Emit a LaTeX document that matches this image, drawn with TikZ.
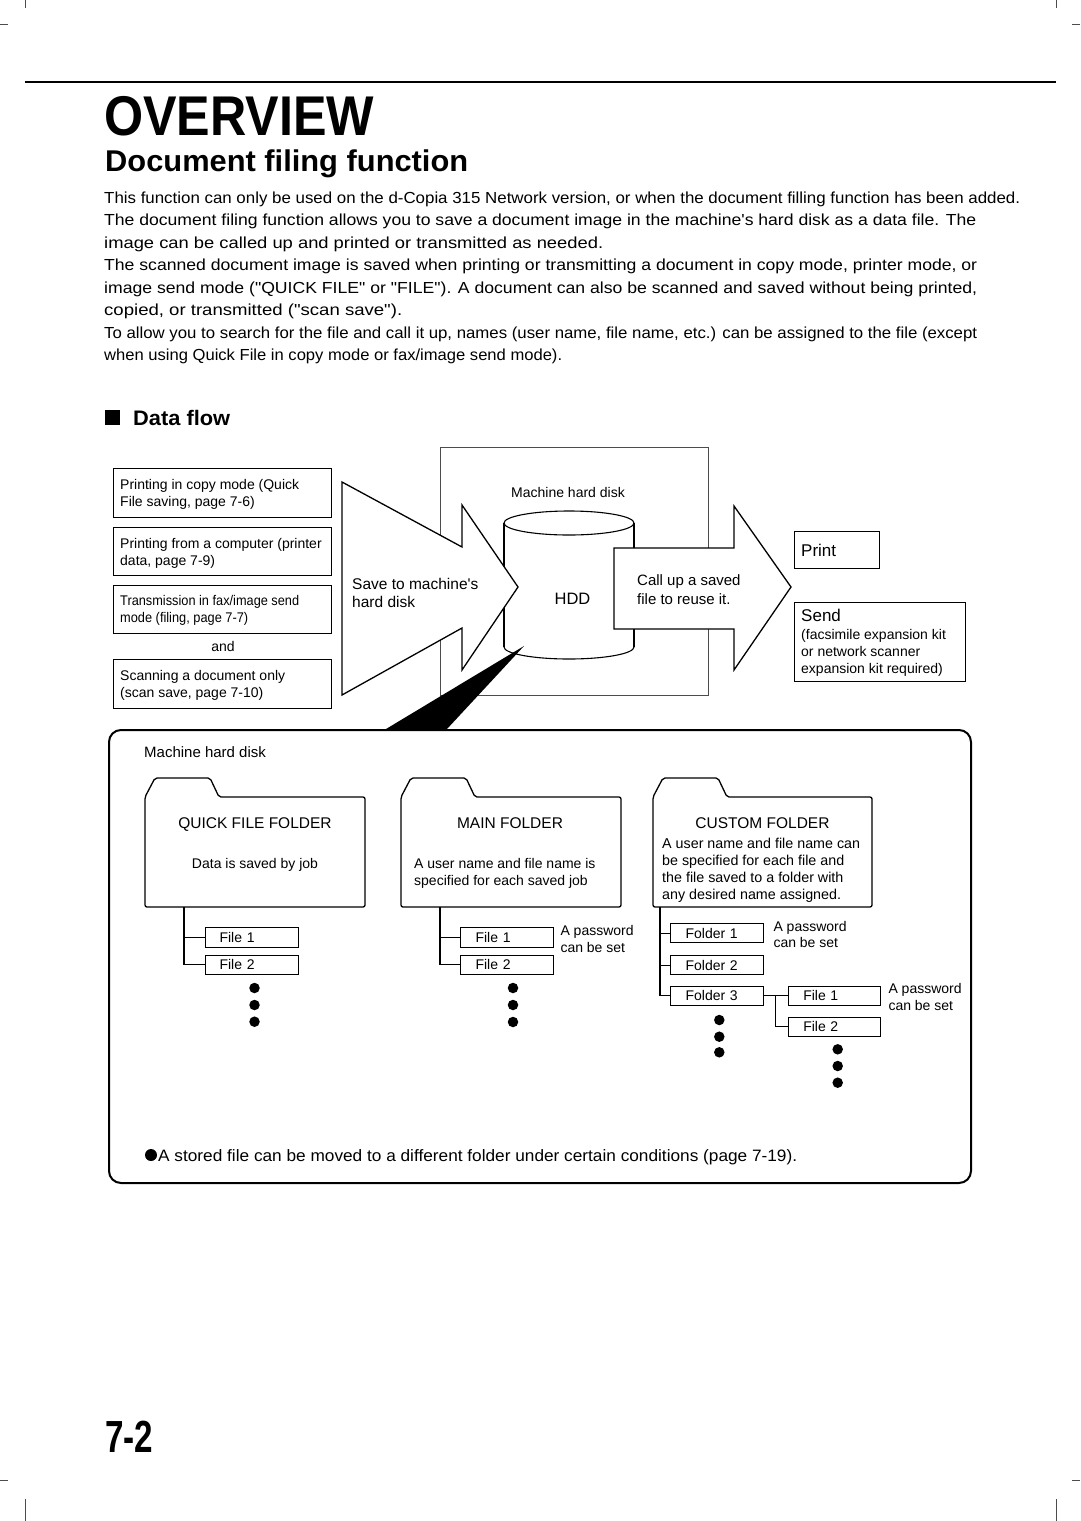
\documentclass[tikz,border=0pt]{standalone}
\usepackage{fontspec}
\setmainfont{Liberation Sans}[Ligatures=TeXOff]
\usepackage{graphicx}
\newlength\fitlen
\newcommand\fitto[2]{\settowidth\fitlen{#2}\pgfmathsetmacro\fitr{#1/\fitlen}\scalebox{\fitr}[1]{#2}}
\newcommand\fs[1]{\fontsize{#1}{#1}\selectfont}
\begin{document}
\begin{tikzpicture}[x=1pt,y=-1pt,
  lbl/.style={anchor=base west, inner sep=0},
  clbl/.style={anchor=base, inner sep=0},
  srcbox/.style={draw, line width=1.3, inner sep=0, anchor=north west},
  filebox/.style={draw, line width=1.1, inner sep=0, anchor=north west, minimum height=19.5, text width=#1, align=left, font=\fs{14}},
  tree/.style={line width=1.1},
  bigarrow/.style={draw, fill=white, line width=1.3, line join=miter},
  folder/.style={draw, line width=1.3, rounded corners=2},
  dot/.style={circle, fill, inner sep=0, minimum size=10.5},
  crop/.style={line width=0.6, black!70}]
\fill[white] (0,0) rectangle (1080,1521);
\useasboundingbox (0,0) rectangle (1080,1521);

% crop marks
\draw[crop] (25,0) -- (25,8); \draw[crop] (0,24) -- (8,24);
\draw[crop] (1056,0) -- (1056,8); \draw[crop] (1072,24) -- (1080,24);
\draw[crop] (0,1480) -- (8,1480); \draw[crop] (1072,1480) -- (1080,1480);
\draw[crop] (25,1499) -- (25,1521); \draw[crop] (1056,1499) -- (1056,1521);

% header
\draw[line width=2] (25,82) -- (1056,82);
\node[lbl, font=\fs{56}\bfseries] (title) at (104,135) {\fitto{270}{OVERVIEW}};
\node[lbl, font=\fs{30}\bfseries] (subtitle) at (105,171.5) {\fitto{363}{Document filing function}};

% body text
\begin{scope}[font=\fs{16}]
\node[lbl] (body1) at (104,203.5) {\fitto{916}{This function can only be used on the d-Copia 315 Network version, or when the document filling function has been added.}};
\node[lbl] (body2) at (104,225.5) {\fitto{872}{The document filing function allows you to save a document image in the machine's hard disk as a data file. The}};
\node[lbl] (body3) at (104,248.5) {\fitto{499}{image can be called up and printed or transmitted as needed.}};
\node[lbl] (body4) at (104,270.5) {\fitto{873}{The scanned document image is saved when printing or transmitting a document in copy mode, printer mode, or}};
\node[lbl] (body5) at (104,293.5) {\fitto{873}{image send mode ("QUICK FILE" or "FILE"). A document can also be scanned and saved without being printed,}};
\node[lbl] (body6) at (104,315.5) {\fitto{298}{copied, or transmitted ("scan save").}};
\node[lbl] (body7) at (104,338.5) {\fitto{873}{To allow you to search for the file and call it up, names (user name, file name, etc.) can be assigned to the file (except}};
\node[lbl] (body8) at (104,360.5) {\fitto{458}{when using Quick File in copy mode or fax/image send mode).}};
\end{scope}

% Data flow heading
\node[fill, minimum size=15, inner sep=0, anchor=north west] (sq) at (104.5,410) {};
\node[lbl, font=\fs{21}\bfseries] (df) at (133,425.5) {\fitto{97}{Data flow}};

% machine box and HDD
\node[draw=black!70, line width=0.9, minimum width=268, minimum height=248, anchor=north west, inner sep=0] (mach) at (440,447) {};
\node[clbl, font=\fs{14}] (machl) at (568,497.5) {Machine hard disk};
\draw[line width=1.1, fill=white] (569,647) ellipse[x radius=65, y radius=12];
\fill[white] (504,523) rectangle (634,647);
\draw[line width=1.1] (504,523) -- (504,647);
\draw[line width=1.1] (634,523) -- (634,647);
\draw[line width=1.1, fill=white] (569,523) ellipse[x radius=65, y radius=12];
\coordinate (hdd) at (569,585);
\node[clbl, font=\fs{16.5}] (hddl) at (572.5,604) {HDD};

% big arrows
\draw[bigarrow] (342,482) -- (462,547) -- (462,505) -- (518,587) -- (462,670) -- (462,628) -- (342,695) -- cycle;
\node[lbl, font=\fs{15.5}] (save1) at (352,589) {Save to machine's};
\node[lbl, font=\fs{15.5}] (save2) at (352,607) {hard disk};
\draw[bigarrow] (614,548) -- (734,548) -- (734,506) -- (791,587) -- (734,670) -- (734,629) -- (614,629) -- cycle;
\node[lbl, font=\fs{15}] (call1) at (637,585) {Call up a saved};
\node[lbl, font=\fs{15}] (call2) at (637,604) {file to reuse it.};

% source boxes
\node[srcbox, minimum width=218, minimum height=49] (src1) at (113,468) {};
\node[srcbox, minimum width=218, minimum height=48] (src2) at (113,527) {};
\node[srcbox, minimum width=218, minimum height=48] (src3) at (113,585) {};
\node[srcbox, minimum width=218, minimum height=49] (src4) at (113,659) {};
\begin{scope}[font=\fs{14}]
\node[lbl] (s1a) at (120,489) {Printing in copy mode (Quick};
\node[lbl] (s1b) at (120,506) {File saving, page 7-6)};
\node[lbl] (s2a) at (120,548) {Printing from a computer (printer};
\node[lbl] (s2b) at (120,565) {data, page 7-9)};
\node[lbl] (s3a) at (120,605.5) {\fitto{179}{Transmission in fax/image send}};
\node[lbl] (s3b) at (120,622.5) {\fitto{128}{mode (filing, page 7-7)}};
\node[clbl] (and) at (223,651.5) {and};
\node[lbl] (s4a) at (120,680) {Scanning a document only};
\node[lbl] (s4b) at (120,697) {(scan save, page 7-10)};
\end{scope}

% output boxes
\node[srcbox, minimum width=85, minimum height=37] (print) at (794,531) {};
\node[lbl, font=\fs{17}] (printl) at (801,556.5) {Print};
\node[srcbox, minimum width=171, minimum height=79] (send) at (794,602) {};
\node[lbl, font=\fs{17}] (sendl) at (801,621.5) {Send};
\begin{scope}[font=\fs{14}]
\node[lbl] (send1) at (801,639) {(facsimile expansion kit};
\node[lbl] (send2) at (801,656) {or network scanner};
\node[lbl] (send3) at (801,673) {expansion kit required)};
\end{scope}

% lower rounded box
\node[draw, line width=2, rounded corners=12, minimum width=862, minimum height=453, anchor=north west, inner sep=0] (hdbox) at (108,729) {};
\fill (386,729) -- (447,729) -- (524,646) -- (514,652) -- cycle;
\node[lbl, font=\fs{15}] (hdl) at (144,757) {Machine hard disk};

% folders
\draw[folder] (145,907) -- (145,797) -- (155,778) -- (210,778) -- (219,797) -- (365,797) -- (365,907) -- cycle;
\draw[folder] (401,907) -- (401,797) -- (411,778) -- (466,778) -- (475,797) -- (621,797) -- (621,907) -- cycle;
\draw[folder] (653,907) -- (653,797) -- (663,778) -- (718,778) -- (727,797) -- (872,797) -- (872,907) -- cycle;

\node[clbl, font=\fs{15.5}] (qft) at (255,828.3) {QUICK FILE FOLDER};
\node[clbl, font=\fs{14}] (qfd) at (255,868.3) {Data is saved by job};
\node[clbl, font=\fs{15.5}] (mft) at (510,828.3) {MAIN FOLDER};
\node[lbl, font=\fs{14}] (mfd1) at (414,868.3) {A user name and file name is};
\node[lbl, font=\fs{14}] (mfd2) at (414,885.3) {specified for each saved job};
\node[clbl, font=\fs{15.5}] (cft) at (762.5,828.3) {CUSTOM FOLDER};
\begin{scope}[font=\fs{14.3}]
\node[lbl] (cfd1) at (662,848.3) {A user name and file name can};
\node[lbl] (cfd2) at (662,865.3) {be specified for each file and};
\node[lbl] (cfd3) at (662,882.3) {the file saved to a folder with};
\node[lbl] (cfd4) at (662,899.3) {any desired name assigned.};
\end{scope}

% file boxes
\node[filebox=93] (qf1) at (204.5,927) {\hspace*{14.5pt}File 1};
\node[filebox=93] (qf2) at (204.5,954.5) {\hspace*{14.5pt}File 2};
\node[filebox=93] (mf1) at (460,927) {\hspace*{15pt}File 1};
\node[filebox=93] (mf2) at (460,954.5) {\hspace*{15pt}File 2};
\node[filebox=92.7, minimum height=19] (cf1) at (670,923.3) {\hspace*{15pt}Folder 1};
\node[filebox=92.7, minimum height=19] (cf2) at (670,955.3) {\hspace*{15pt}Folder 2};
\node[filebox=92.7, minimum height=19] (cf3) at (670,985.7) {\hspace*{15pt}Folder 3};
\node[filebox=92.3, minimum height=19] (cfa) at (787.7,985.7) {\hspace*{15pt}File 1};
\node[filebox=92.3, minimum height=19] (cfb) at (787.7,1016.7) {\hspace*{15pt}File 2};

% tree connectors
\coordinate (qroot) at (184,907);
\coordinate (mroot) at (440,907);
\coordinate (croot) at (660,907);
\coordinate (csub) at (775.7,995.2);
\draw[tree] (qroot) |- (qf1.west);
\draw[tree] (qroot) |- (qf2.west);
\draw[tree] (mroot) |- (mf1.west);
\draw[tree] (mroot) |- (mf2.west);
\draw[tree] (croot) |- (cf1.west);
\draw[tree] (croot) |- (cf2.west);
\draw[tree] (croot) |- (cf3.west);
\draw[tree] (cf3.east) -- (cfa.west);
\draw[tree] (csub) |- (cfb.west);

% password notes
\begin{scope}[font=\fs{14}]
\node[lbl] (pw1a) at (560.3,935) {A password};
\node[lbl] (pw1b) at (560.3,952.3) {can be set};
\node[lbl] (pw2a) at (773.3,931.7) {A password};
\node[lbl] (pw2b) at (773.3,947.7) {can be set};
\node[lbl] (pw3a) at (888.3,993.3) {A password};
\node[lbl] (pw3b) at (888.3,1010) {can be set};
\end{scope}

% continuation dots
\node[dot] (qd1) at (254.5,988) {};
\node[dot] (qd2) at (254.5,1005) {};
\node[dot] (qd3) at (254.5,1021.7) {};
\node[dot] (md1) at (513,988) {};
\node[dot] (md2) at (513,1005) {};
\node[dot] (md3) at (513,1022) {};
\node[dot] (cd1) at (719.3,1020) {};
\node[dot] (cd2) at (719.3,1036.7) {};
\node[dot] (cd3) at (719.3,1052.3) {};
\node[dot] (fd1) at (837.7,1049.3) {};
\node[dot] (fd2) at (837.7,1066) {};
\node[dot] (fd3) at (837.7,1082.7) {};

% note
\node[dot, minimum size=12] (bul) at (151,1155) {};
\node[lbl, font=\fs{16.5}] (note) at (158,1161) {\fitto{639}{A stored file can be moved to a different folder under certain conditions (page 7-19).}};

% page number
\node[lbl, font=\fs{45}\bfseries] (pnum) at (105,1452) {\fitto{48}{7-2}};
\end{tikzpicture}
\end{document}
